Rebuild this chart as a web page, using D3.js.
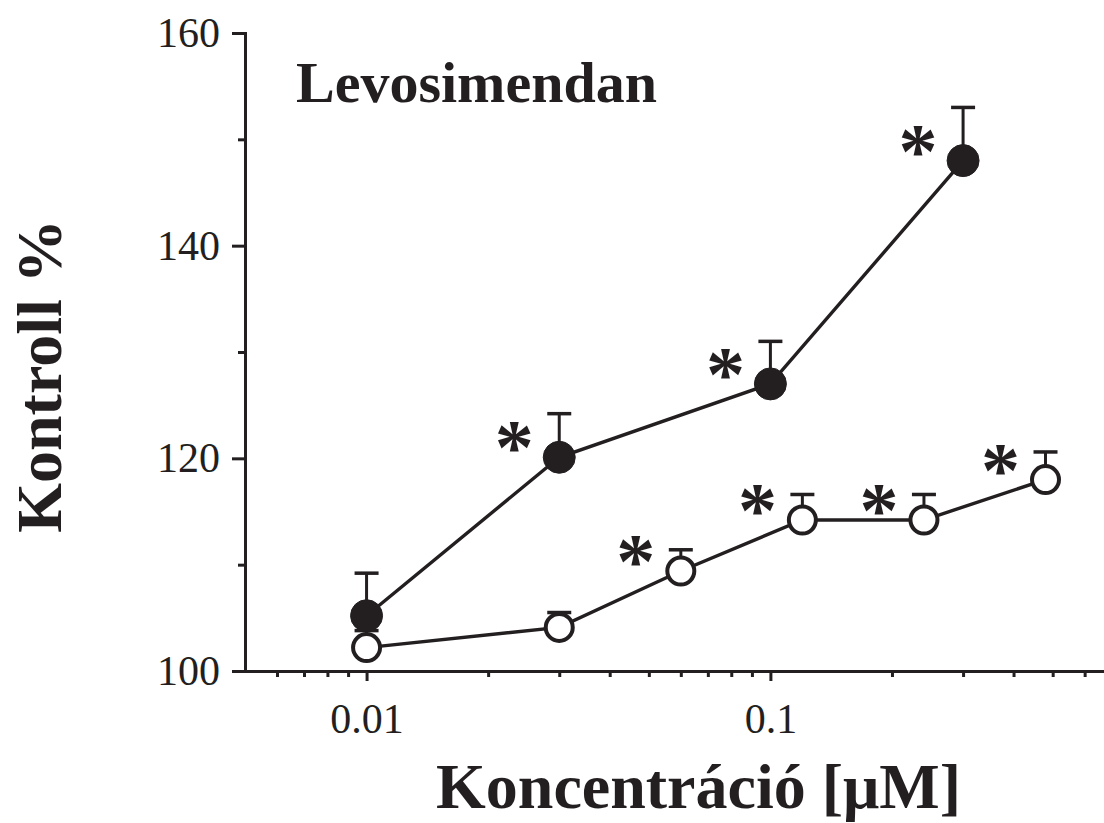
<!DOCTYPE html>
<html>
<head>
<meta charset="utf-8">
<script src="https://cdn.jsdelivr.net/npm/d3@7"></script>
<style>
	body { margin: 0; background: #fff; }
	svg { display: block; font-family: "Liberation Serif", "Times New Roman", serif; }
	.axis path, .axis line { stroke: #231f20; stroke-width: 3; }
	.axis text { font-size: 42px; fill: #231f20; font-family: "Liberation Serif", serif; }
</style>
</head>
<body>
<div id="chart"></div>
<script>
"use strict";

//  Data
const concFilled = [0.01, 0.03, 0.1, 0.3];
const valueFilled = [105.2, 120.1, 127, 148];
const errFilled = [4, 4.1, 4, 5];
const sigFilled = [false, true, true, true];

const concOpen = [0.01, 0.03, 0.06, 0.12, 0.24, 0.48];
const valueOpen = [102.2, 104.1, 109.4, 114.2, 114.2, 118];
const errOpen = [1.6, 1.4, 2, 2.4, 2.4, 2.6];
const sigOpen = [false, false, true, true, true, true];

const xMajorTicks = [0.01, 0.1];
const xMinorTicks = [0.006, 0.007, 0.008, 0.009, 0.02, 0.03, 0.04, 0.05, 0.06, 0.07, 0.08, 0.09, 0.2, 0.3, 0.4, 0.5, 0.6];
const yMajorTicks = [100, 120, 140, 160];
const yMinorTicks = [110, 130, 150];

const title = 'Levosimendan';
const xTitle = 'Koncentráció [μM]';
const yTitle = 'Kontroll %';

const width = 1104, height = 823;
const ink = '#231f20';

const svg = d3.select('#chart').append('svg')
	.attr('width', width)
	.attr('height', height);

const x = d3.scaleLog().domain([0.005, 0.67]).range([245, 1104]);
const y = d3.scaleLinear().domain([100, 160]).range([671, 33]);

//  Axes
svg.append('g')
	.attr('class', 'axis')
	.attr('transform', `translate(0,${y(100)})`)
	.call(d3.axisBottom(x).tickValues(xMinorTicks).tickSize(6).tickSizeOuter(0).tickFormat(''));

svg.append('g')
	.attr('class', 'axis')
	.attr('transform', `translate(0,${y(100)})`)
	.call(d3.axisBottom(x).tickValues(xMajorTicks).tickSize(10).tickSizeOuter(0).tickPadding(22).tickFormat(d3.format('')));

svg.append('g')
	.attr('class', 'axis')
	.attr('transform', `translate(${x(0.005)},0)`)
	.call(d3.axisLeft(y).tickValues(yMinorTicks).tickSize(7).tickSizeOuter(0).tickFormat(''));

svg.append('g')
	.attr('class', 'axis')
	.attr('transform', `translate(${x(0.005)},0)`)
	.call(d3.axisLeft(y).tickValues(yMajorTicks).tickSize(13).tickSizeOuter(0).tickPadding(12).tickFormat(d3.format('d')));

svg.selectAll('.axis path').attr('stroke-linecap', 'square');

//  Series
function drawSeries(conc, values, errs, sigs, filled, radius)
{
	const points = conc.map((c, i) => ({ c: c, v: values[i], e: errs[i], sig: sigs[i] }));
	const g = svg.append('g');

	g.append('path')
		.datum(points)
		.attr('fill', 'none')
		.attr('stroke', ink)
		.attr('stroke-width', 3.4)
		.attr('d', d3.line().x(p => x(p.c)).y(p => y(p.v)));

	g.selectAll('.err')
		.data(points)
		.join('line')
		.attr('x1', p => x(p.c)).attr('x2', p => x(p.c))
		.attr('y1', p => y(p.v)).attr('y2', p => y(p.v + p.e))
		.attr('stroke', ink).attr('stroke-width', 3);

	g.selectAll('.cap')
		.data(points)
		.join('line')
		.attr('x1', p => x(p.c) - 12).attr('x2', p => x(p.c) + 12)
		.attr('y1', p => y(p.v + p.e)).attr('y2', p => y(p.v + p.e))
		.attr('stroke', ink).attr('stroke-width', 3.5);

	g.selectAll('circle')
		.data(points)
		.join('circle')
		.attr('cx', p => x(p.c))
		.attr('cy', p => y(p.v))
		.attr('r', radius)
		.attr('fill', filled ? ink : '#fff')
		.attr('stroke', ink)
		.attr('stroke-width', filled ? 1 : 4);

	g.selectAll('.star')
		.data(points.filter(p => p.sig))
		.join('text')
		.text('*')
		.attr('x', p => x(p.c) - 45)
		.attr('y', p => y(p.v) + 16)
		.attr('text-anchor', 'middle')
		.attr('font-weight', 'bold')
		.attr('font-size', 78)
		.attr('fill', ink);
}

drawSeries(concOpen, valueOpen, errOpen, sigOpen, false, 13.5);
drawSeries(concFilled, valueFilled, errFilled, sigFilled, true, 16);

//  Titles
svg.append('text')
	.attr('x', 296).attr('y', 102)
	.attr('font-size', 58).attr('font-weight', 'bold').attr('fill', ink)
	.text(title);

svg.append('text')
	.attr('x', (432 + 965) / 2).attr('y', 808)
	.attr('text-anchor', 'middle')
	.attr('font-size', 64).attr('font-weight', 'bold').attr('fill', ink)
	.text(xTitle);

svg.append('text')
	.attr('transform', 'translate(61,376) rotate(-90)')
	.attr('text-anchor', 'middle')
	.attr('font-size', 64).attr('font-weight', 'bold').attr('fill', ink)
	.text(yTitle);
</script>
</body>
</html>
